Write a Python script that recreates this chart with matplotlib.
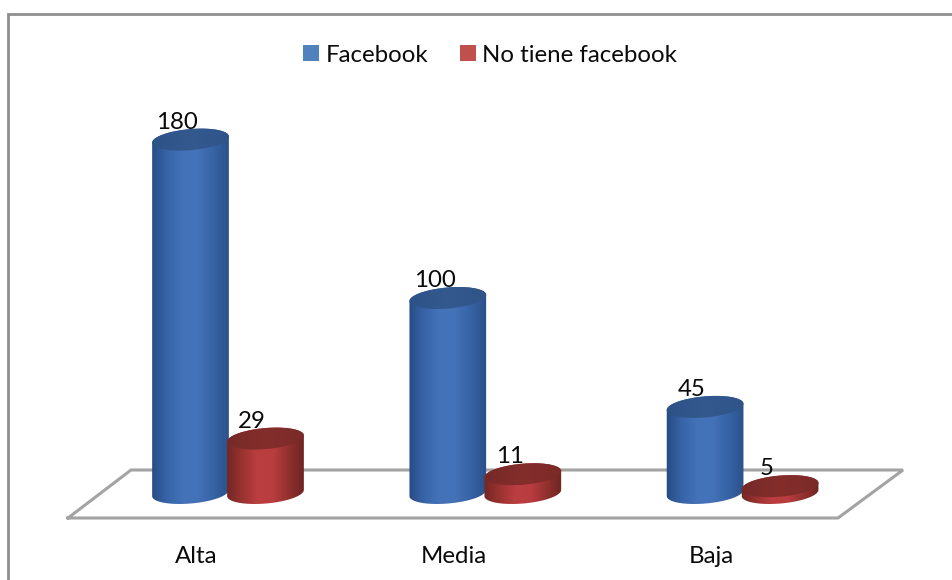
#!/usr/bin/env python3
import matplotlib
matplotlib.use("Agg")
import matplotlib.pyplot as plt
import numpy as np
from matplotlib.colors import LinearSegmentedColormap
from matplotlib.patches import Patch, PathPatch
from matplotlib.path import Path

categories = ["Alta", "Media", "Baja"]
facebook = [180, 100, 45]
no_facebook = [29, 11, 5]
series_names = ["Facebook", "No tiene facebook"]

W, H = 952, 580
PX_PER_CAT = 257.3
PX_PER_UNIT = 1.98
CAT0_X = 228
BASE_Y = 496
FOOT_LIFT = 3  # px the foot of a cylinder sits above its value zero
RX, RY = 38.5, 10.5
TILT = np.radians(5)
FONT = "Lato"

BLUE_SIDE = LinearSegmentedColormap.from_list(
    "blue_side", ["#264a80", "#3763a6", "#4473ba", "#4472b8", "#3562a3", "#2a4f86"])
RED_SIDE = LinearSegmentedColormap.from_list(
    "red_side", ["#6f2624", "#98322f", "#bb3e41", "#b93c3f", "#90302e", "#682422"])
BLUE_TOP = LinearSegmentedColormap.from_list("blue_top", ["#2d5288", "#33598f", "#2f5488"])
RED_TOP = LinearSegmentedColormap.from_list("red_top", ["#762927", "#842e2c", "#7a2a28"])


def to_data(dx, dy):
    return dx / PX_PER_CAT, dy / PX_PER_UNIT


def ellipse_pts(cx, cy, t):
    # tilted ellipse, offsets worked out in pixels then scaled back to data
    ex = RX * np.cos(t)
    ey = RY * np.sin(t)
    dx, dy = to_data(ex * np.cos(TILT) - ey * np.sin(TILT),
                     ex * np.sin(TILT) + ey * np.cos(TILT))
    return np.column_stack([cx + dx, cy + dy])


def fill_gradient(ax, verts, cmap, x0, x1, y0, y1, z):
    patch = PathPatch(Path(np.vstack([verts, verts[:1]])), fc="none", ec="none",
                      transform=ax.transData)
    ax.add_patch(patch)
    img = ax.imshow(np.linspace(0, 1, 128)[None, :], cmap=cmap, aspect="auto",
                    extent=(x0, x1, y0, y1), zorder=z, interpolation="bilinear")
    img.set_clip_path(patch)


def cylinder(ax, x, value, side, top, z):
    # body runs under the cap so no light seam shows between them
    foot = FOOT_LIFT / PX_PER_UNIT
    low = ellipse_pts(x, foot, np.linspace(np.pi, 2 * np.pi, 60))
    high = ellipse_pts(x, value, np.linspace(0, np.pi, 60))
    body = np.vstack([low, high])
    cap = ellipse_pts(x, value, np.linspace(0, 2 * np.pi, 120))
    pad_x, pad_y = to_data(RX + 2, RY + 8)
    fill_gradient(ax, body, side, x - pad_x, x + pad_x, foot - pad_y, value + pad_y, z)
    fill_gradient(ax, cap, top, x - pad_x, x + pad_x, value - pad_y, value + pad_y, z + 0.1)
    ax.annotate(str(value), (x, value), xytext=(-9.5, 12.5), textcoords="offset points",
                ha="center", va="center", fontsize=17.3, family=FONT, color="#0a0a0a", zorder=10)


def main():
    fig = plt.figure(figsize=(W / 100, H / 100), dpi=100)
    ax = fig.add_axes([0, 0, 1, 1])
    ax.axis("off")

    px = ax.transAxes
    # chart frame, only top and left are inside the picture
    ax.plot([8 / W, 8 / W, 1], [0, 1 - 14 / H, 1 - 14 / H], color="#8f8f8f", lw=2,
            transform=px, solid_joinstyle="miter", clip_on=False)
    # floor of the 3d chart
    floor_x = np.array([68, 838, 903, 131, 68]) / W
    floor_y = 1 - np.array([518, 518, 470, 470, 518]) / H
    ax.plot(floor_x, floor_y, color="#a3a3a3", lw=2.2, transform=px, zorder=1,
            solid_joinstyle="miter")

    half = 37.5 / PX_PER_CAT
    for i, cat in enumerate(categories):
        cylinder(ax, i - half, facebook[i], BLUE_SIDE, BLUE_TOP, 2 + i)
        cylinder(ax, i + half, no_facebook[i], RED_SIDE, RED_TOP, 2.5 + i)
        ax.text(i - 31.5 / PX_PER_CAT, -(556.5 - BASE_Y) / PX_PER_UNIT, cat, ha="center",
                va="center", fontsize=17.3, family=FONT, color="#0a0a0a")

    ax.set_xlim(-CAT0_X / PX_PER_CAT, (W - CAT0_X) / PX_PER_CAT)
    ax.set_ylim(-(H - BASE_Y) / PX_PER_UNIT, BASE_Y / PX_PER_UNIT)

    handles = [Patch(fc="#4f81bd", ec="none"), Patch(fc="#c0504d", ec="none")]
    ax.legend(handles, series_names, ncol=2, loc="center", bbox_to_anchor=(490 / W, 1 - 55 / H),
              frameon=False, prop={"family": FONT, "size": 17.3}, handlelength=0.67,
              handleheight=0.67, handletextpad=0.25, columnspacing=1.33, labelcolor="#0a0a0a")

    fig.savefig("out.png", dpi=100, facecolor="white")
    return 0


if __name__ == "__main__":
    main()
